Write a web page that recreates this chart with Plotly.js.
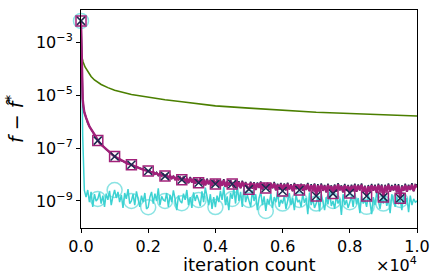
<!DOCTYPE html>
<html><head><meta charset="utf-8">
<script src="https://cdn.plot.ly/plotly-3.0.1.min.js"></script>
<style>html,body{margin:0;padding:0;background:#fff}#chart{width:436px;height:280px}</style>
</head><body><div id="chart"></div>
<script>
// iteration counts shared by the three noisy runs
const iterations = [0,10,20,30,50,75,100,150,200,250,300,350,400,450,
500,550,600,650,700,750,800,850,900,950,
1000,1050,1100,1150,1200,1250,1300,1350,1400,1450,
1500,1550,1600,1650,1700,1750,1800,1850,1900,1950,
2000,2050,2100,2150,2200,2250,2300,2350,2400,2450,
2500,2550,2600,2650,2700,2750,2800,2850,2900,2950,
3000,3050,3100,3150,3200,3250,3300,3350,3400,3450,
3500,3550,3600,3650,3700,3750,3800,3850,3900,3950,
4000,4050,4100,4150,4200,4250,4300,4350,4400,4450,
4500,4550,4600,4650,4700,4750,4800,4850,4900,4950,
5000,5050,5100,5150,5200,5250,5300,5350,5400,5450,
5500,5550,5600,5650,5700,5750,5800,5850,5900,5950,
6000,6050,6100,6150,6200,6250,6300,6350,6400,6450,
6500,6550,6600,6650,6700,6750,6800,6850,6900,6950,
7000,7050,7100,7150,7200,7250,7300,7350,7400,7450,
7500,7550,7600,7650,7700,7750,7800,7850,7900,7950,
8000,8050,8100,8150,8200,8250,8300,8350,8400,8450,
8500,8550,8600,8650,8700,8750,8800,8850,8900,8950,
9000,9050,9100,9150,9200,9250,9300,9350,9400,9450,
9500,9550,9600,9650,9700,9750,9800,9850,9900,9950,
10000];

const magentaVals = [6.3e-3,1e-3,1.5e-4,3e-5,7e-6,3.5e-6,2.2e-6,1.4e-6,8.5e-7,6.5e-7,5.2e-7,4.3e-7,3.3e-7,2.5e-7,
1.9e-7,1.58e-7,1.35e-7,1.17e-7,1.02e-7,8.9e-8,7.8e-8,6.8e-8,6.0e-8,5.4e-8,
4.8e-8,4.4e-8,4.0e-8,3.7e-8,3.4e-8,3.2e-8,2.95e-8,2.75e-8,2.57e-8,2.45e-8,
2.34e-8,2.19e-8,2.04e-8,1.9e-8,1.82e-8,1.7e-8,1.62e-8,1.55e-8,1.48e-8,1.41e-8,
1.35e-8,1.33e-8,1.19e-8,1.24e-8,1.06e-8,1.12e-8,9.6e-9,1.06e-8,9.0e-9,9.8e-9,
8.7e-9,9.4e-9,7.6e-9,8.8e-9,7.2e-9,8.3e-9,6.6e-9,7.9e-9,6.5e-9,7.4e-9,
6.3e-9,7.8e-9,5.2e-9,7.1e-9,4.9e-9,7.4e-9,5.1e-9,6.7e-9,4.6e-9,6.5e-9,
4.9e-9,6.6e-9,4.3e-9,6.2e-9,4.0e-9,6.4e-9,4.4e-9,5.8e-9,3.7e-9,5.9e-9,
4.4e-9,5.9e-9,3.6e-9,5.5e-9,3.8e-9,6.1e-9,3.5e-9,5.2e-9,3.9e-9,5.6e-9,
4.4e-9,3.3e-9,5.4e-9,3.4e-9,5.1e-9,3.1e-9,5.3e-9,3.5e-9,4.8e-9,3.2e-9,
2.8e-9,4.9e-9,3.0e-9,4.7e-9,2.7e-9,4.6e-9,3.2e-9,5.0e-9,2.8e-9,4.4e-9,
3.1e-9,4.5e-9,2.7e-9,4.3e-9,3.1e-9,4.7e-9,2.6e-9,4.1e-9,2.8e-9,4.4e-9,
2.4e-9,4.2e-9,2.6e-9,4.4e-9,2.8e-9,4.0e-9,2.4e-9,4.3e-9,2.9e-9,3.9e-9,
2.6e-9,4.1e-9,2.5e-9,3.8e-9,2.7e-9,4.3e-9,2.4e-9,3.9e-9,2.6e-9,4.2e-9,
1.55e-9,3.9e-9,2.4e-9,4.1e-9,2.5e-9,3.7e-9,2.2e-9,4.0e-9,2.7e-9,3.6e-9,
1.9e-9,3.8e-9,2.3e-9,4.2e-9,2.6e-9,3.6e-9,2.2e-9,3.9e-9,2.5e-9,3.7e-9,
2.0e-9,3.7e-9,2.4e-9,4.0e-9,2.3e-9,3.8e-9,2.6e-9,4.1e-9,2.2e-9,3.5e-9,
1.55e-9,3.6e-9,2.3e-9,3.9e-9,2.5e-9,3.7e-9,2.1e-9,4.0e-9,2.4e-9,3.8e-9,
1.4e-9,3.7e-9,2.4e-9,4.1e-9,2.3e-9,3.6e-9,2.6e-9,3.9e-9,2.2e-9,3.8e-9,
1.26e-9,3.5e-9,2.5e-9,4.0e-9,2.3e-9,3.7e-9,2.7e-9,4.1e-9,2.4e-9,3.8e-9,
3.3e-9];

const navyVals = [6.3e-3,1.1e-3,1.6e-4,3.2e-5,7.2e-6,3.6e-6,2.25e-6,1.42e-6,8.6e-7,6.6e-7,5.25e-7,4.3e-7,3.35e-7,2.5e-7,
1.9e-7,1.6e-7,1.36e-7,1.16e-7,1.03e-7,8.8e-8,7.9e-8,6.7e-8,6.1e-8,5.3e-8,
4.8e-8,4.5e-8,3.9e-8,3.8e-8,3.3e-8,3.25e-8,2.9e-8,2.8e-8,2.5e-8,2.5e-8,
2.34e-8,2.25e-8,2.0e-8,1.95e-8,1.78e-8,1.75e-8,1.58e-8,1.6e-8,1.44e-8,1.46e-8,
1.35e-8,1.42e-8,1.15e-8,1.3e-8,1.02e-8,1.2e-8,9.2e-9,1.12e-8,8.7e-9,1.04e-8,
8.7e-9,1.0e-8,7.3e-9,9.5e-9,6.9e-9,8.9e-9,6.3e-9,8.6e-9,6.2e-9,8.0e-9,
6.3e-9,8.4e-9,5.1e-9,7.6e-9,4.7e-9,8.0e-9,5.0e-9,7.0e-9,4.5e-9,6.9e-9,
4.9e-9,7.2e-9,4.2e-9,6.6e-9,3.9e-9,7.0e-9,4.3e-9,6.1e-9,3.6e-9,6.4e-9,
4.4e-9,6.5e-9,3.5e-9,5.9e-9,3.7e-9,6.7e-9,3.4e-9,5.5e-9,3.8e-9,6.1e-9,
4.4e-9,3.2e-9,5.9e-9,3.3e-9,5.6e-9,3.0e-9,5.8e-9,3.4e-9,5.2e-9,3.1e-9,
2.8e-9,5.4e-9,2.9e-9,5.1e-9,2.6e-9,5.0e-9,3.1e-9,5.5e-9,2.7e-9,4.8e-9,
3.1e-9,4.9e-9,2.6e-9,4.7e-9,3.0e-9,5.2e-9,2.5e-9,4.5e-9,2.7e-9,4.8e-9,
2.4e-9,4.6e-9,2.5e-9,4.9e-9,2.7e-9,4.3e-9,2.3e-9,4.8e-9,2.8e-9,4.2e-9,
2.6e-9,4.5e-9,2.4e-9,4.1e-9,2.6e-9,4.8e-9,2.3e-9,4.3e-9,2.5e-9,4.6e-9,
1.55e-9,4.3e-9,2.3e-9,4.6e-9,2.4e-9,4.0e-9,2.1e-9,4.5e-9,2.6e-9,3.9e-9,
1.9e-9,4.2e-9,2.2e-9,4.7e-9,2.5e-9,3.9e-9,2.1e-9,4.4e-9,2.4e-9,4.0e-9,
2.0e-9,4.1e-9,2.3e-9,4.5e-9,2.2e-9,4.2e-9,2.5e-9,4.6e-9,2.1e-9,3.8e-9,
1.55e-9,4.0e-9,2.2e-9,4.4e-9,2.4e-9,4.1e-9,2.0e-9,4.5e-9,2.3e-9,4.2e-9,
1.4e-9,4.1e-9,2.3e-9,4.6e-9,2.2e-9,4.0e-9,2.5e-9,4.4e-9,2.1e-9,4.3e-9,
1.26e-9,3.9e-9,2.4e-9,4.5e-9,2.2e-9,4.1e-9,2.6e-9,4.7e-9,2.3e-9,4.2e-9,
4.0e-9];

const cyanVals = [6.3e-3,2e-3,3e-4,3e-5,3e-7,6e-9,2.5e-9,1.4e-9,2.6e-9,9e-10,2.2e-9,6e-10,1.8e-9,1.0e-9,
1.2e-9,2.1e-9,8e-10,1.6e-9,6e-10,1.9e-9,1.1e-9,2.4e-9,7e-10,1.5e-9,
2.6e-9,1.3e-9,2.2e-9,9e-10,1.7e-9,5.5e-10,2.0e-9,1.2e-9,2.8e-9,8e-10,
1.0e-9,1.8e-9,7e-10,2.3e-9,1.1e-9,6e-10,1.6e-9,9e-10,2.0e-9,5e-10,
5.8e-10,1.4e-9,2.2e-9,8e-10,1.9e-9,1.0e-9,3.0e-9,7e-10,1.5e-9,1.1e-9,
1.0e-9,2.0e-9,6e-10,1.7e-9,9e-10,2.5e-9,1.2e-9,4.5e-10,1.6e-9,1.0e-9,
8.3e-10,1.9e-9,1.1e-9,2.6e-9,7e-10,1.4e-9,5.5e-10,2.1e-9,1.0e-9,1.7e-9,
1.1e-9,6.5e-10,2.3e-9,9e-10,3.2e-9,1.2e-9,7e-10,1.8e-9,5e-10,1.4e-9,
5.9e-10,1.6e-9,9e-10,2.4e-9,1.1e-9,3.4e-9,7e-10,1.5e-9,4.5e-10,2.0e-9,
1.2e-9,2.9e-9,8e-10,4.0e-9,1.0e-9,2.2e-9,6e-10,3.6e-9,9e-10,1.7e-9,
1.1e-9,6e-10,2.5e-9,1.0e-9,1.8e-9,4.5e-10,1.3e-9,2.2e-9,7e-10,1.5e-9,
4.2e-10,1.2e-9,7.5e-10,1.9e-9,5.5e-10,1.4e-9,9e-10,2.3e-9,6e-10,1.1e-9,
8e-10,1.6e-9,5e-10,1.2e-9,2.0e-9,7e-10,1.3e-9,4.5e-10,1.7e-9,9e-10,
1.1e-9,6e-10,1.8e-9,8.5e-10,1.3e-9,3.2e-10,2.1e-9,7e-10,1.2e-9,5.5e-10,
8e-10,1.5e-9,4e-10,1.9e-9,9e-10,4.5e-10,1.4e-9,7.5e-10,2.2e-9,6.5e-10,
1.0e-9,5e-10,1.6e-9,8e-10,1.2e-9,3e-10,1.8e-9,7e-10,1.1e-9,5.5e-10,
9e-10,1.5e-9,6e-10,2.0e-9,7.5e-10,1.3e-9,3.5e-10,1.6e-9,8e-10,1.1e-9,
6e-10,1.7e-9,9e-10,3.2e-10,1.4e-9,7e-10,2.1e-9,8.5e-10,5e-10,1.3e-9,
8e-10,1.6e-9,6.5e-10,1.2e-9,3.5e-10,1.8e-9,9e-10,6e-10,1.5e-9,7.5e-10,
1.1e-9,4.5e-10,1.9e-9,8e-10,1.3e-9,3.8e-10,1.6e-9,7e-10,1.2e-9,9e-10,
1.0e-9];

const greenIters = [0,30,60,120,200,300,400,600,800,1000,1500,2000,2500,3000,3500,4000,5000,6000,7000,8000,9000,10000];
const greenVals = [3.8e-4,2.5e-4,1.8e-4,1.15e-4,7.6e-5,5.0e-5,3.7e-5,2.5e-5,1.9e-5,1.5e-5,1.05e-5,8.1e-6,6.6e-6,5.6e-6,4.6e-6,3.9e-6,3.2e-6,2.6e-6,2.24e-6,2.0e-6,1.78e-6,1.62e-6];

const xTickVals = [0,2000,4000,6000,8000,10000];
const xTickText = ['0.0','0.2','0.4','0.6','0.8','1.0'];
const yTickVals = [1e-9,1e-7,1e-5,1e-3];
const yTickText = ['10<sup>−9</sup>','10<sup>−7</sup>','10<sup>−5</sup>','10<sup>−3</sup>'];

const C_GREEN = '#4b7f00', C_CYAN = '#3dd2d2', C_NAVY = '#1b2b4f', C_MAG = '#a2207a';

// markers every 500 iterations (as in the original markevery)
function pick(vals){
  const xs=[], ys=[];
  iterations.forEach((t,i)=>{ if(t%500===0 && t<10000){ xs.push(t); ys.push(vals[i]); } });
  return {xs, ys};
}
const mk = pick(magentaVals), nk = pick(navyVals), ck = pick(cyanVals);

const traces = [
  {x: greenIters, y: greenVals, mode:'lines', line:{color:C_GREEN, width:1.6}},
  {x: ck.xs, y: ck.ys, mode:'markers', cliponaxis:false, opacity:0.6,
   marker:{symbol:'circle-open', size:15, color:C_CYAN, line:{width:1.5, color:C_CYAN}}},
  {x: iterations, y: cyanVals, mode:'lines', line:{color:C_CYAN, width:1.5}},
  {x: iterations, y: navyVals, mode:'lines', line:{color:C_NAVY, width:1.6}},
  {x: iterations, y: magentaVals, mode:'lines', line:{color:C_MAG, width:2.4}},
  {x: mk.xs, y: mk.ys, mode:'markers', cliponaxis:false,
   marker:{symbol:'square-open', size:10, color:C_MAG, line:{width:1.5, color:C_MAG}}},
  {x: nk.xs, y: nk.ys, mode:'markers', cliponaxis:false,
   marker:{symbol:'x-thin-open', size:8, color:C_NAVY, line:{width:1.5, color:C_NAVY}}}
];

const layout = {
  width:436, height:280,
  margin:{l:81, r:19, t:10, b:52},
  paper_bgcolor:'#fff', plot_bgcolor:'#fff',
  showlegend:false,
  font:{family:'DejaVu Sans', size:16, color:'#000'},
  xaxis:{range:[0,10000], tickmode:'array', tickvals:xTickVals, ticktext:xTickText,
    ticks:'outside', ticklen:4, tickwidth:1, tickcolor:'#000',
    showline:true, linecolor:'#000', linewidth:1, mirror:true,
    showgrid:false, zeroline:false, tickfont:{size:16}},
  yaxis:{type:'log', range:[-10.02,-1.79], tickmode:'array', tickvals:yTickVals, ticktext:yTickText,
    ticks:'outside', ticklen:4, tickwidth:1, tickcolor:'#000',
    showline:true, linecolor:'#000', linewidth:1, mirror:true,
    showgrid:false, zeroline:false, tickfont:{size:16}},
  annotations:[
    {text:'iteration count', xref:'paper', yref:'paper', x:0.5, y:0, xanchor:'center', yanchor:'top',
     yshift:-24, showarrow:false, font:{size:18}},
    {text:'×10<sup>4</sup>', xref:'paper', yref:'paper', x:1, y:0, xanchor:'right', yanchor:'top',
     yshift:-24, xshift:2, showarrow:false, font:{size:16}},
    {text:'<i>f</i> − <i>f\u0302</i><sup>*</sup>', xref:'paper', yref:'paper', x:0, y:0.5,
     xanchor:'center', yanchor:'middle', xshift:-66, textangle:-90, showarrow:false, font:{size:19}}
  ]
};

Plotly.newPlot('chart', traces, layout, {displayModeBar:false, staticPlot:true});
</script></body></html>
